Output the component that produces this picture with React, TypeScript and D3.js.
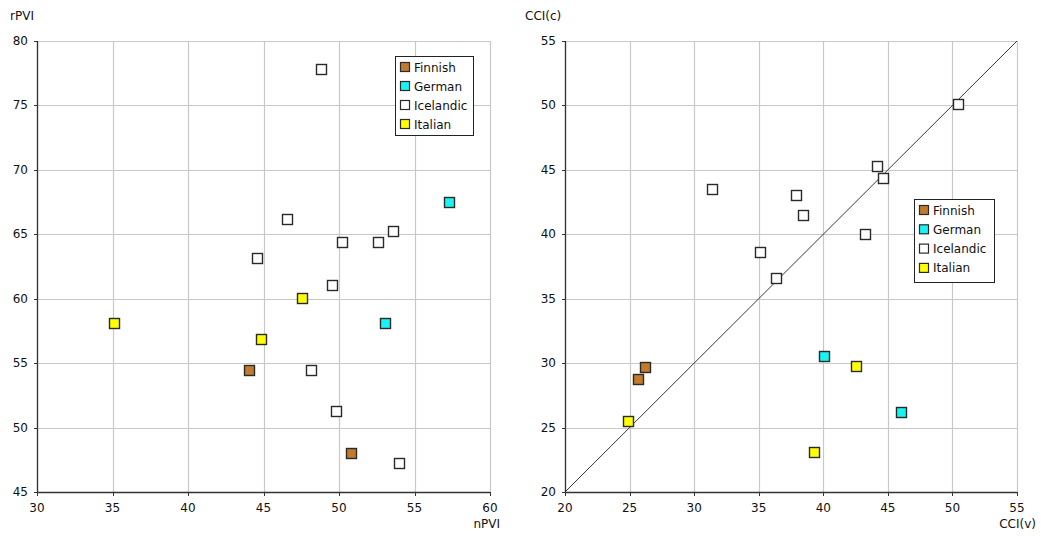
import React from "react";
import * as d3 from "d3";

const languages = ["Finnish", "German", "Icelandic", "Italian"];
const colors = ["#c27a2c", "#18f4f4", "#ffffff", "#ffff00"];

// Left chart: nPVI (x), rPVI (y)
const leftFinnish = [[44.1, 54.45], [50.85, 47.95]];
const leftGerman = [[57.35, 67.5], [53.1, 58.05]];
const leftIcelandic = [
  [48.85, 77.8], [46.6, 66.15], [53.6, 65.2], [50.2, 64.4], [52.6, 64.4],
  [44.6, 63.15], [49.6, 61.0], [48.2, 54.45], [49.85, 51.25], [54.0, 47.25],
];
const leftItalian = [[47.6, 60.0], [35.15, 58.05], [44.85, 56.8]];

// Right chart: CCI(v) (x), CCI(c) (y)
const rightFinnish = [[26.2, 29.65], [25.7, 28.7]];
const rightGerman = [[40.1, 30.5], [46.05, 26.2]];
const rightIcelandic = [
  [50.45, 50.1], [44.2, 45.25], [44.7, 44.3], [31.45, 43.5], [37.95, 43.0],
  [38.45, 41.45], [43.25, 40.0], [35.15, 38.55], [36.35, 36.6],
];
const rightItalian = [[24.9, 25.45], [42.55, 29.75], [39.3, 23.1]];

const leftXTicks = [30, 35, 40, 45, 50, 55, 60];
const leftYTicks = [45, 50, 55, 60, 65, 70, 75, 80];
const rightTicks = [20, 25, 30, 35, 40, 45, 50, 55];

const FONT = "Tahoma, 'DejaVu Sans', sans-serif";

type Pt = number[];

function Panel(props: {
  x0: number; x1: number; y0: number; y1: number;
  xDomain: [number, number]; yDomain: [number, number];
  xTicks: number[]; yTicks: number[];
  series: Pt[][]; xLabel: string; yLabel: string;
  xLabelPos: [number, number]; yLabelPos: [number, number];
  legend: { x: number; y: number; w: number; h: number; step: number };
  diagonal?: boolean;
}) {
  const { x0, x1, y0, y1 } = props;
  const xs = d3.scaleLinear().domain(props.xDomain).range([x0, x1]);
  const ys = d3.scaleLinear().domain(props.yDomain).range([y1, y0]);
  const m = 11;
  const lg = props.legend;
  return (
    <g>
      {props.xTicks.map((t) => (
        <line key={"gx" + t} x1={Math.round(xs(t)) + 0.5} x2={Math.round(xs(t)) + 0.5} y1={y0} y2={y1}
          stroke="#c8c8c8" strokeWidth={1.2} />
      ))}
      {props.yTicks.map((t) => (
        <line key={"gy" + t} x1={x0} x2={x1} y1={Math.round(ys(t)) + 0.5} y2={Math.round(ys(t)) + 0.5}
          stroke="#c8c8c8" strokeWidth={1.2} />
      ))}
      {props.diagonal && (
        <line x1={xs(props.xDomain[0])} y1={ys(props.yDomain[0])} x2={xs(props.xDomain[1])} y2={ys(props.yDomain[1])}
          stroke="#222" strokeWidth={0.9} />
      )}
      {/* axes */}
      <line x1={x0 + 0.5} x2={x0 + 0.5} y1={y0} y2={y1 + 0.5} stroke="#333" strokeWidth={1.3} />
      <line x1={x0} x2={x1} y1={y1 + 0.5} y2={y1 + 0.5} stroke="#333" strokeWidth={1.3} />
      {props.xTicks.map((t) => (
        <g key={"tx" + t}>
          <line x1={Math.round(xs(t)) + 0.5} x2={Math.round(xs(t)) + 0.5} y1={y1} y2={y1 + 4} stroke="#333" />
          <text x={xs(t)} y={y1 + 20} textAnchor="middle" fontFamily={FONT} fontSize={12} fill="#111">{t}</text>
        </g>
      ))}
      {props.yTicks.map((t) => (
        <g key={"ty" + t}>
          <line x1={x0 - 3} x2={x0} y1={Math.round(ys(t)) + 0.5} y2={Math.round(ys(t)) + 0.5} stroke="#333" />
          <text x={x0 - 9} y={ys(t) + 4} textAnchor="end" fontFamily={FONT} fontSize={12} fill="#111">{t}</text>
        </g>
      ))}
      <text x={props.xLabelPos[0]} y={props.xLabelPos[1]} textAnchor="end" fontFamily={FONT} fontSize={12} fill="#111">{props.xLabel}</text>
      <text x={props.yLabelPos[0]} y={props.yLabelPos[1]} fontFamily={FONT} fontSize={12} fill="#111">{props.yLabel}</text>
      {props.series.map((pts, si) =>
        pts.map((p, i) => (
          <rect key={si + "-" + i} x={Math.round(xs(p[0]) - m / 2) + 0.5} y={Math.round(ys(p[1]) - m / 2) + 0.5}
            width={m - 1} height={m - 1} fill={colors[si]} stroke="#2a2a2a" strokeWidth={1.4} />
        ))
      )}
      <rect x={lg.x + 0.5} y={lg.y + 0.5} width={lg.w} height={lg.h} fill="#fff" stroke="#222" strokeWidth={1} />
      {languages.map((l, i) => (
        <g key={l}>
          <rect x={lg.x + 5.5} y={lg.y + 6.5 + i * lg.step} width={9} height={9} fill={colors[i]} stroke="#2a2a2a" strokeWidth={1.2} />
          <text x={lg.x + 19} y={lg.y + 15.5 + i * lg.step} fontFamily={FONT} fontSize={12} fill="#111">{l}</text>
        </g>
      ))}
    </g>
  );
}

export default function App() {
  return (
    <svg width={1041} height={536} style={{ position: "absolute", left: 0, top: 0, background: "#fff" }}>
      <rect width={1041} height={536} fill="#fff" />
      <Panel x0={37} x1={490} y0={41} y1={492} xDomain={[30, 60]} yDomain={[45, 80]}
        xTicks={leftXTicks} yTicks={leftYTicks}
        series={[leftFinnish, leftGerman, leftIcelandic, leftItalian]}
        xLabel="nPVI" yLabel="rPVI" xLabelPos={[500, 528]} yLabelPos={[10, 20]}
        legend={{ x: 395, y: 56, w: 78, h: 79, step: 19 }} />
      <Panel x0={565} x1={1017} y0={41} y1={492} xDomain={[20, 55]} yDomain={[20, 55]}
        xTicks={rightTicks} yTicks={rightTicks}
        series={[rightFinnish, rightGerman, rightIcelandic, rightItalian]}
        xLabel="CCI(v)" yLabel="CCI(c)" xLabelPos={[1036, 528]} yLabelPos={[525, 20]}
        legend={{ x: 914, y: 199, w: 80, h: 83, step: 19.3 }} diagonal />
    </svg>
  );
}
